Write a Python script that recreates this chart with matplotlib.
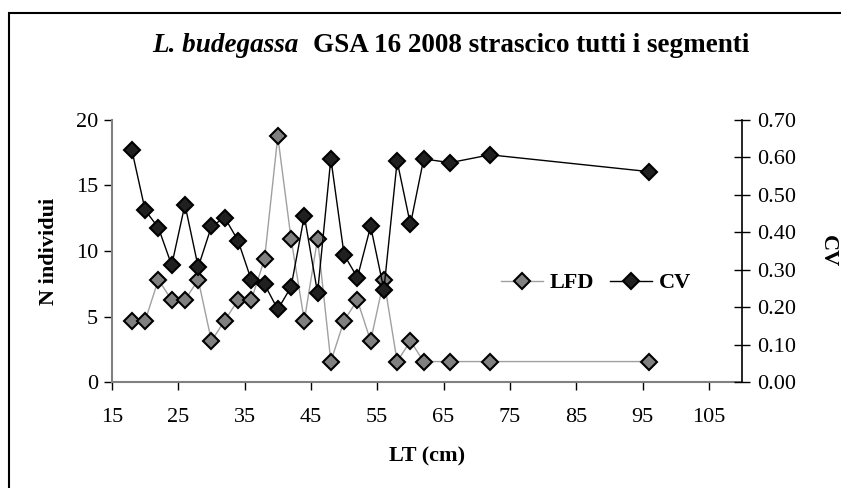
import matplotlib
matplotlib.use('Agg')
import matplotlib.pyplot as plt
from matplotlib.patches import Rectangle
from matplotlib.ticker import FormatStrFormatter

plt.rcParams['font.family'] = ['Liberation Serif', 'DejaVu Serif']

# lunghezze (cm)
lt = [18, 20, 22, 24, 26, 28, 30, 32, 34, 36, 38, 40, 42, 44, 46,
      48, 50, 52, 54, 56, 58, 60, 62, 66, 72, 96]
# distribuzione di frequenza (N individui)
lfd = [4.69, 4.69, 7.81, 6.25, 6.25, 7.81, 3.13, 4.69, 6.25, 6.25, 9.38, 18.75, 10.94,
       4.69, 10.94, 1.56, 4.69, 6.25, 3.13, 7.81, 1.56, 3.13, 1.56, 1.56, 1.56, 1.56]
# coefficiente di variazione
cv = [0.619, 0.459, 0.412, 0.312, 0.474, 0.307, 0.416, 0.439, 0.378, 0.273, 0.261,
      0.194, 0.254, 0.444, 0.238, 0.597, 0.340, 0.279, 0.416, 0.247, 0.590, 0.421,
      0.596, 0.586, 0.607, 0.562]

W, H = 841, 488
fig = plt.figure(figsize=(W / 100, H / 100), dpi=100)
ax = fig.add_axes([112 / W, 1 - 382 / H, 630 / W, 262 / H])
ax2 = ax.twinx()

# cornice esterna
fig.patches.append(Rectangle((9 / W, -0.2), 1.2, 1 - 13 / H + 0.2, transform=fig.transFigure,
                             fill=False, edgecolor='black', linewidth=1.5))

l1, = ax.plot(lt, lfd, color='#a0a0a0', linewidth=1, marker='D', markersize=8.5,
              markerfacecolor='#808080', markeredgecolor='black', markeredgewidth=1.5,
              label='LFD')
l2, = ax2.plot(lt, cv, color='black', linewidth=1, marker='D', markersize=8.5,
               markerfacecolor='#202020', markeredgecolor='black', markeredgewidth=1.5,
               label='CV')

ax.set_xlim(15, 110)
ax.set_ylim(0, 20)
ax2.set_ylim(0, 0.7)
ax.set_xticks(range(15, 106, 10))
ax.set_yticks(range(0, 21, 5))
ax2.set_yticks([i / 10 for i in range(8)])
ax2.yaxis.set_major_formatter(FormatStrFormatter('%.2f'))

for s in ['top', 'right']:
    ax.spines[s].set_visible(False)
for s in ['top', 'left', 'bottom']:
    ax2.spines[s].set_visible(False)
ax.spines['left'].set_color('#808080')
ax.spines['bottom'].set_color('#808080')
ax.spines['left'].set_linewidth(1.5)
ax.spines['bottom'].set_linewidth(1.5)
ax2.spines['right'].set_linewidth(1.2)

ax.tick_params(axis='both', direction='out', length=6, width=1, labelsize=16, pad=4)
ax.tick_params(axis='x', pad=13)
ax2.tick_params(axis='y', direction='inout', length=12, width=1, labelsize=16, pad=5)

ax.set_xlabel('LT (cm)', fontsize=16, fontweight='bold', labelpad=14)
ax.set_ylabel('N individui', fontsize=16, fontweight='bold', labelpad=12)
ax2.set_ylabel('CV', fontsize=16, fontweight='bold', rotation=-90, labelpad=30)

ax2.legend(handles=[l1, l2], loc='center', bbox_to_anchor=((596 - 112) / 630, (382 - 283) / 262),
           ncol=2, frameon=False, prop={'weight': 'bold', 'size': 16},
           handlelength=1.9, handletextpad=0.3, columnspacing=0.7, borderpad=0)

# titolo con nome della specie in corsivo
t1 = fig.text(152 / W, 1 - 52 / H, 'L. budegassa', fontsize=19.5, fontweight='bold',
              fontstyle='italic', ha='left', va='baseline')
fig.canvas.draw()
bb = t1.get_window_extent()
fig.text((bb.x1 + 15) / W, 1 - 52 / H, 'GSA 16 2008 strascico tutti i segmenti',
         fontsize=19.5, fontweight='bold', ha='left', va='baseline')

fig.savefig('out.png', dpi=100)
